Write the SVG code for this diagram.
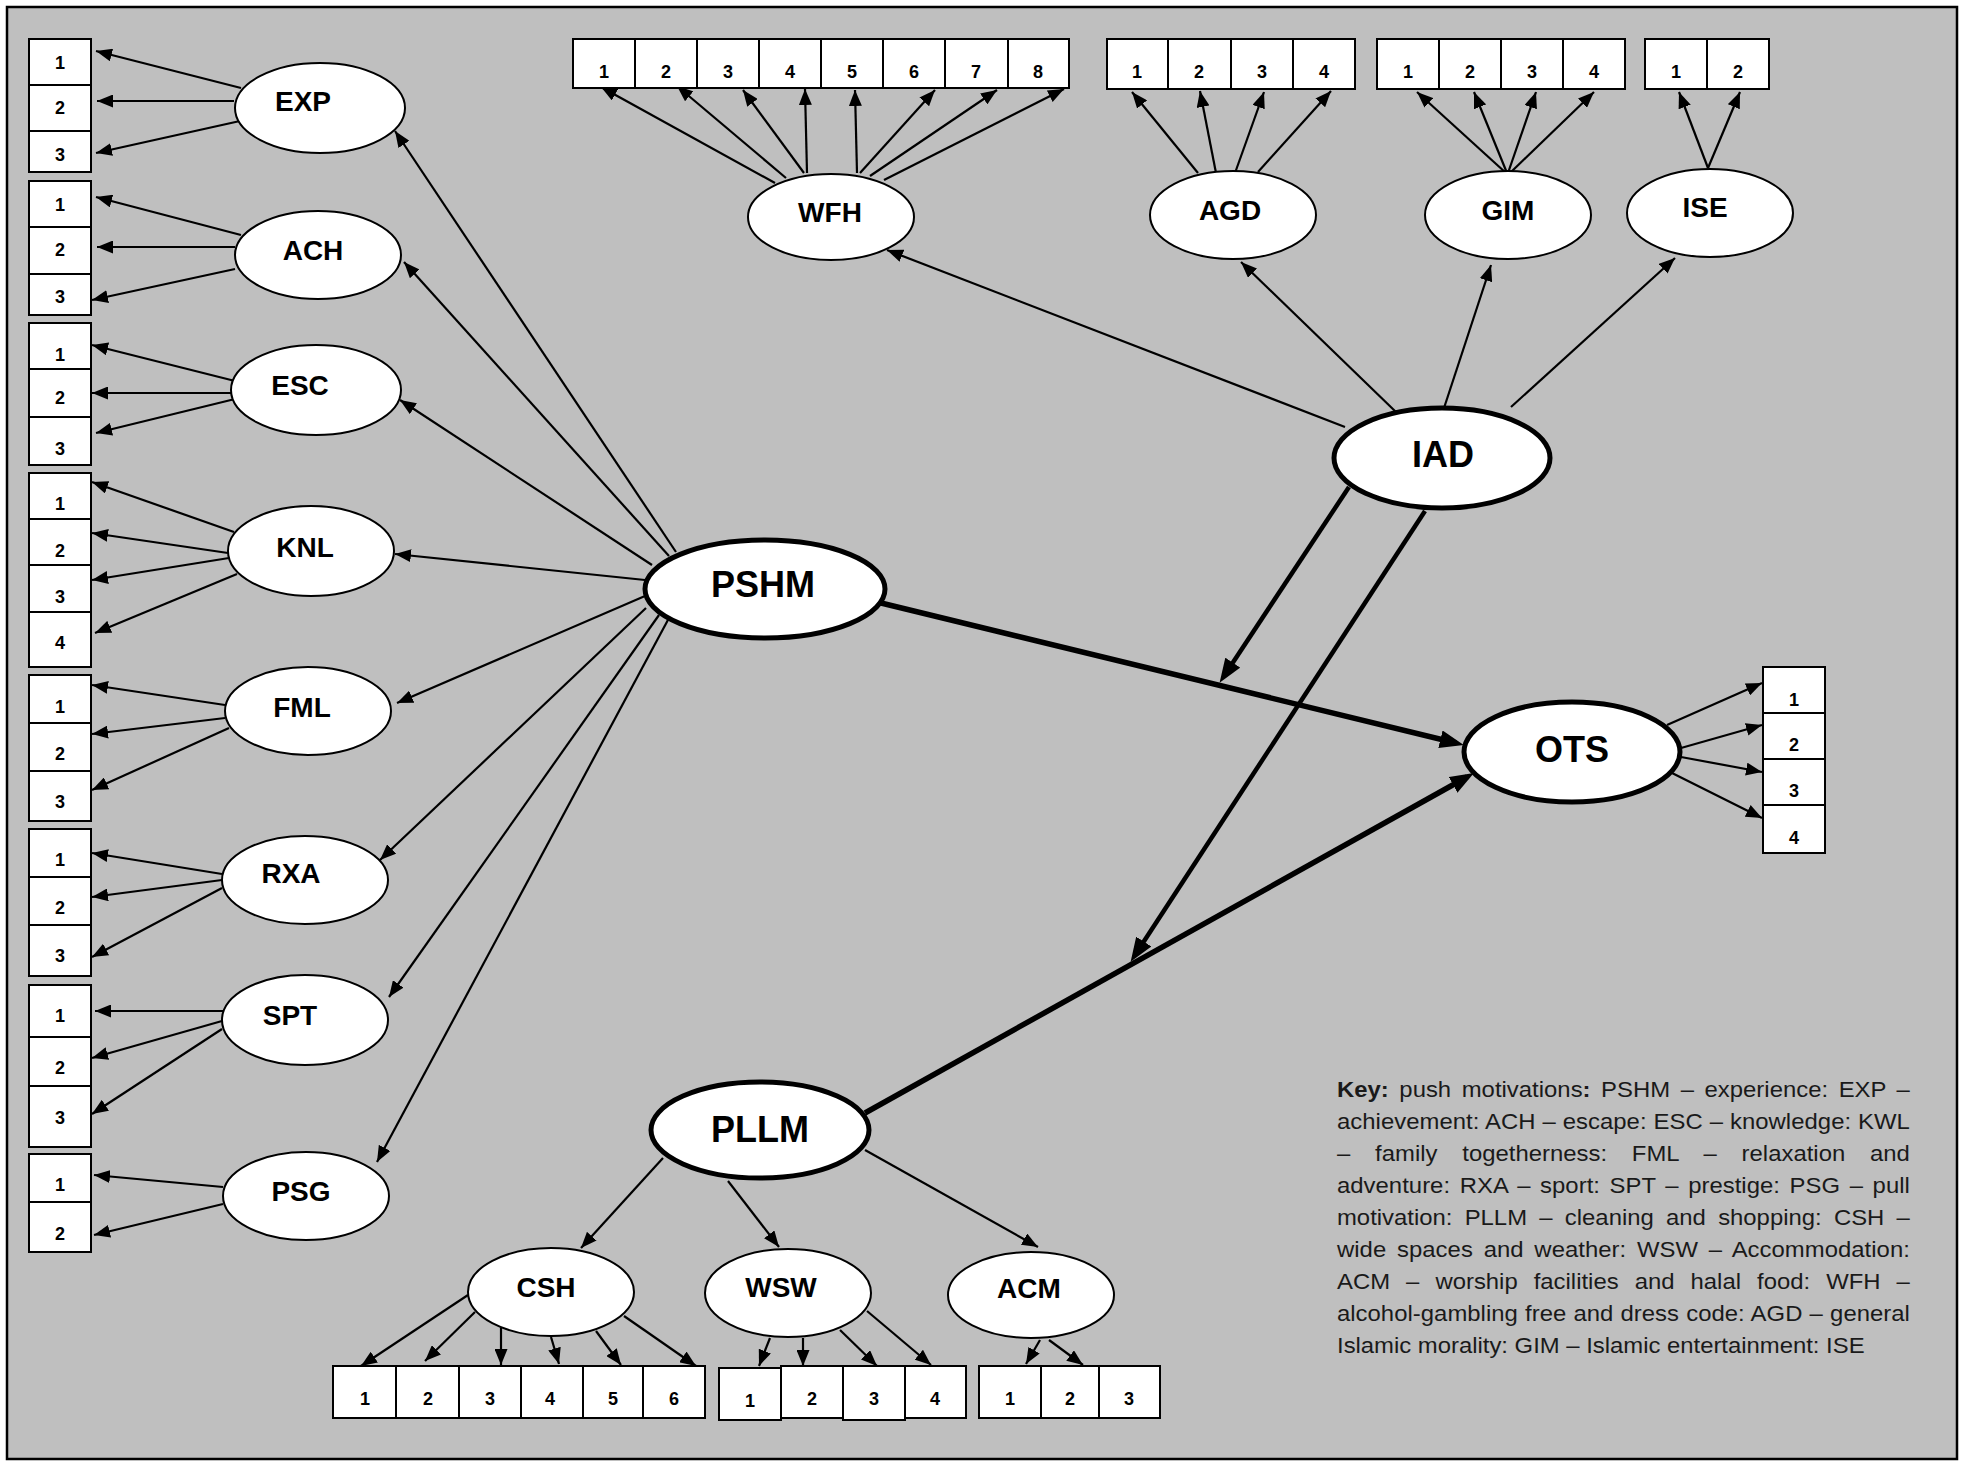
<svg xmlns="http://www.w3.org/2000/svg" width="1967" height="1463" viewBox="0 0 1967 1463">
<style>
.bx{fill:#fff;stroke:#000;stroke-width:2}
.n{font-family:"Liberation Sans",Arial,sans-serif;font-size:18px;font-weight:bold;text-anchor:middle;fill:#000}
.lv{fill:#fff;stroke:#000;stroke-width:2}
.lvb{fill:#fff;stroke:#000;stroke-width:5}
.lb{font-family:"Liberation Sans",Arial,sans-serif;font-size:28px;font-weight:bold;text-anchor:middle;fill:#000}
.lbb{font-family:"Liberation Sans",Arial,sans-serif;font-size:36px;font-weight:bold;text-anchor:middle;fill:#000}
.c{stroke:#000;stroke-width:2.2;fill:none;marker-end:url(#a)}
.t{stroke:#000;stroke-width:5.5;fill:none;marker-end:url(#A)}
.tm{stroke:#000;stroke-width:4.5;fill:none;marker-end:url(#A)}
.key{font-family:"Liberation Sans",Arial,sans-serif;font-size:22px;fill:#1a1a1a}
</style>
<defs>
<marker id="a" markerUnits="userSpaceOnUse" markerWidth="16" markerHeight="13" refX="16" refY="6.5" orient="auto"><path d="M0,0 L16,6.5 L0,13 z" fill="#000"/></marker>
<marker id="A" markerUnits="userSpaceOnUse" markerWidth="24" markerHeight="18" refX="16" refY="9" orient="auto"><path d="M0,0 L24,9 L0,18 z" fill="#000"/></marker>
</defs>
<rect x="0" y="0" width="1967" height="1463" fill="#fff"/>
<rect id="frame" x="7" y="7" width="1950" height="1452" fill="#bfbfbf" stroke="#000" stroke-width="2.5"/>

<g id="connectors">
<!-- EXP indicators -->
<line class="c" x1="241" y1="88" x2="96" y2="51"/>
<line class="c" x1="234" y1="101" x2="97" y2="101"/>
<line class="c" x1="240" y1="121" x2="96" y2="153"/>
<!-- ACH -->
<line class="c" x1="241" y1="235" x2="96" y2="197"/>
<line class="c" x1="235" y1="247" x2="97" y2="247"/>
<line class="c" x1="235" y1="269" x2="92" y2="300"/>
<!-- ESC -->
<line class="c" x1="235" y1="381" x2="92" y2="345"/>
<line class="c" x1="231" y1="393" x2="92" y2="393"/>
<line class="c" x1="235" y1="399" x2="96" y2="433"/>
<!-- KNL -->
<line class="c" x1="234" y1="532" x2="92" y2="482"/>
<line class="c" x1="228" y1="553" x2="92" y2="533"/>
<line class="c" x1="229" y1="558" x2="92" y2="580"/>
<line class="c" x1="237" y1="574" x2="95" y2="633"/>
<!-- FML -->
<line class="c" x1="225" y1="705" x2="92" y2="685"/>
<line class="c" x1="225" y1="718" x2="92" y2="734"/>
<line class="c" x1="229" y1="728" x2="92" y2="790"/>
<!-- RXA -->
<line class="c" x1="222" y1="874" x2="92" y2="853"/>
<line class="c" x1="222" y1="880" x2="92" y2="897"/>
<line class="c" x1="222" y1="888" x2="92" y2="957"/>
<!-- SPT -->
<line class="c" x1="223" y1="1011" x2="95" y2="1011"/>
<line class="c" x1="222" y1="1021" x2="92" y2="1058"/>
<line class="c" x1="222" y1="1029" x2="92" y2="1114"/>
<!-- PSG -->
<line class="c" x1="223" y1="1187" x2="94" y2="1175"/>
<line class="c" x1="223" y1="1204" x2="94" y2="1235"/>
<!-- PSHM to push factors -->
<line class="c" x1="676" y1="552" x2="395" y2="131"/>
<line class="c" x1="669" y1="556" x2="404" y2="262"/>
<line class="c" x1="652" y1="565" x2="400" y2="400"/>
<line class="c" x1="645" y1="580" x2="395" y2="554"/>
<line class="c" x1="645" y1="596" x2="397" y2="703"/>
<line class="c" x1="646" y1="608" x2="380" y2="860"/>
<line class="c" x1="659" y1="615" x2="389" y2="997"/>
<line class="c" x1="669" y1="618" x2="377" y2="1162"/>
<!-- IAD to its factors -->
<line class="c" x1="1345" y1="427" x2="887" y2="250"/>
<line class="c" x1="1396" y1="412" x2="1241" y2="262"/>
<line class="c" x1="1444" y1="408" x2="1491" y2="265"/>
<line class="c" x1="1511" y1="407" x2="1675" y2="258"/>
<!-- WFH indicators -->
<line class="c" x1="775" y1="183" x2="601" y2="87"/>
<line class="c" x1="786" y1="178" x2="677" y2="86"/>
<line class="c" x1="804" y1="173" x2="743" y2="90"/>
<line class="c" x1="807" y1="173" x2="805" y2="89"/>
<line class="c" x1="857" y1="173" x2="855" y2="90"/>
<line class="c" x1="860" y1="173" x2="935" y2="90"/>
<line class="c" x1="870" y1="176" x2="997" y2="90"/>
<line class="c" x1="884" y1="180" x2="1064" y2="89"/>
<!-- AGD indicators -->
<line class="c" x1="1198" y1="173" x2="1132" y2="92"/>
<line class="c" x1="1216" y1="173" x2="1200" y2="91"/>
<line class="c" x1="1235" y1="173" x2="1264" y2="92"/>
<line class="c" x1="1258" y1="172" x2="1331" y2="91"/>
<!-- GIM indicators -->
<line class="c" x1="1506" y1="173" x2="1417" y2="92"/>
<line class="c" x1="1507" y1="173" x2="1474" y2="92"/>
<line class="c" x1="1508" y1="173" x2="1536" y2="92"/>
<line class="c" x1="1510" y1="173" x2="1594" y2="92"/>
<!-- ISE indicators -->
<line class="c" x1="1708" y1="168" x2="1679" y2="92"/>
<line class="c" x1="1708" y1="168" x2="1740" y2="92"/>
<!-- OTS indicators -->
<line class="c" x1="1667" y1="725" x2="1762" y2="683"/>
<line class="c" x1="1681" y1="748" x2="1762" y2="725"/>
<line class="c" x1="1681" y1="757" x2="1762" y2="772"/>
<line class="c" x1="1672" y1="773" x2="1762" y2="818"/>
<!-- PLLM to pull factors -->
<line class="c" x1="663" y1="1158" x2="581" y2="1248"/>
<line class="c" x1="728" y1="1181" x2="779" y2="1247"/>
<line class="c" x1="865" y1="1150" x2="1038" y2="1247"/>
<!-- CSH indicators -->
<line class="c" x1="468" y1="1295" x2="361" y2="1366"/>
<line class="c" x1="475" y1="1312" x2="425" y2="1361"/>
<line class="c" x1="501" y1="1328" x2="501" y2="1365"/>
<line class="c" x1="551" y1="1337" x2="559" y2="1364"/>
<line class="c" x1="596" y1="1331" x2="621" y2="1365"/>
<line class="c" x1="624" y1="1316" x2="696" y2="1366"/>
<!-- WSW indicators -->
<line class="c" x1="770" y1="1338" x2="759" y2="1366"/>
<line class="c" x1="803" y1="1338" x2="803" y2="1366"/>
<line class="c" x1="840" y1="1330" x2="877" y2="1366"/>
<line class="c" x1="867" y1="1311" x2="931" y2="1365"/>
<!-- ACM indicators -->
<line class="c" x1="1040" y1="1340" x2="1026" y2="1364"/>
<line class="c" x1="1049" y1="1340" x2="1083" y2="1365"/>
<!-- structural paths -->
<line class="t" x1="881" y1="603" x2="1456" y2="743"/>
<line class="t" x1="865" y1="1113" x2="1467" y2="777"/>
<line class="tm" x1="1349" y1="487" x2="1224" y2="676"/>
<line class="tm" x1="1425" y1="511" x2="1135" y2="955"/>
</g>

<!-- latent factor nodes -->
<g id="EXP"><ellipse class="lv" cx="320" cy="108" rx="85" ry="45"/><text class="lb" x="303" y="111">EXP</text></g>
<g id="ACH"><ellipse class="lv" cx="318" cy="255" rx="83" ry="44"/><text class="lb" x="313" y="260">ACH</text></g>
<g id="ESC"><ellipse class="lv" cx="316" cy="390" rx="85" ry="45"/><text class="lb" x="300" y="395">ESC</text></g>
<g id="KNL"><ellipse class="lv" cx="311" cy="551" rx="83" ry="45"/><text class="lb" x="305" y="557">KNL</text></g>
<g id="FML"><ellipse class="lv" cx="308" cy="711" rx="83" ry="44"/><text class="lb" x="302" y="717">FML</text></g>
<g id="RXA"><ellipse class="lv" cx="305" cy="880" rx="83" ry="44"/><text class="lb" x="291" y="883">RXA</text></g>
<g id="SPT"><ellipse class="lv" cx="305" cy="1020" rx="83" ry="45"/><text class="lb" x="290" y="1025">SPT</text></g>
<g id="PSG"><ellipse class="lv" cx="306" cy="1196" rx="83" ry="44"/><text class="lb" x="301" y="1201">PSG</text></g>
<g id="WFH"><ellipse class="lv" cx="831" cy="217" rx="83" ry="43"/><text class="lb" x="830" y="222">WFH</text></g>
<g id="AGD"><ellipse class="lv" cx="1233" cy="215" rx="83" ry="44"/><text class="lb" x="1230" y="220">AGD</text></g>
<g id="GIM"><ellipse class="lv" cx="1508" cy="215" rx="83" ry="44"/><text class="lb" x="1508" y="220">GIM</text></g>
<g id="ISE"><ellipse class="lv" cx="1710" cy="213" rx="83" ry="44"/><text class="lb" x="1705" y="217">ISE</text></g>
<g id="CSH"><ellipse class="lv" cx="551" cy="1292" rx="83" ry="44"/><text class="lb" x="546" y="1297">CSH</text></g>
<g id="WSW"><ellipse class="lv" cx="788" cy="1293" rx="83" ry="44"/><text class="lb" x="781" y="1297">WSW</text></g>
<g id="ACM"><ellipse class="lv" cx="1031" cy="1295" rx="83" ry="43"/><text class="lb" x="1029" y="1298">ACM</text></g>
<g id="PSHM"><ellipse class="lvb" cx="765" cy="589" rx="120" ry="49"/><text class="lbb" x="763" y="597">PSHM</text></g>
<g id="IAD"><ellipse class="lvb" cx="1442" cy="458" rx="108" ry="50"/><text class="lbb" x="1443" y="467">IAD</text></g>
<g id="OTS"><ellipse class="lvb" cx="1572" cy="752" rx="108" ry="50"/><text class="lbb" x="1572" y="762">OTS</text></g>
<g id="PLLM"><ellipse class="lvb" cx="760" cy="1130" rx="109" ry="48"/><text class="lbb" x="760" y="1142">PLLM</text></g>

<!-- left indicator boxes -->
<g id="EXP_1"><rect class="bx" x="29" y="39" width="62" height="46"/><text class="n" x="60" y="69">1</text></g>
<g id="EXP_2"><rect class="bx" x="29" y="85" width="62" height="46"/><text class="n" x="60" y="114">2</text></g>
<g id="EXP_3"><rect class="bx" x="29" y="131" width="62" height="41"/><text class="n" x="60" y="161">3</text></g>
<g id="ACH_1"><rect class="bx" x="29" y="181" width="62" height="46"/><text class="n" x="60" y="211">1</text></g>
<g id="ACH_2"><rect class="bx" x="29" y="227" width="62" height="47"/><text class="n" x="60" y="256">2</text></g>
<g id="ACH_3"><rect class="bx" x="29" y="274" width="62" height="41"/><text class="n" x="60" y="303">3</text></g>
<g id="ESC_1"><rect class="bx" x="29" y="323" width="62" height="46"/><text class="n" x="60" y="361">1</text></g>
<g id="ESC_2"><rect class="bx" x="29" y="369" width="62" height="48"/><text class="n" x="60" y="404">2</text></g>
<g id="ESC_3"><rect class="bx" x="29" y="417" width="62" height="48"/><text class="n" x="60" y="455">3</text></g>
<g id="KNL_1"><rect class="bx" x="29" y="473" width="62" height="46"/><text class="n" x="60" y="510">1</text></g>
<g id="KNL_2"><rect class="bx" x="29" y="519" width="62" height="46"/><text class="n" x="60" y="557">2</text></g>
<g id="KNL_3"><rect class="bx" x="29" y="565" width="62" height="47"/><text class="n" x="60" y="603">3</text></g>
<g id="KNL_4"><rect class="bx" x="29" y="612" width="62" height="55"/><text class="n" x="60" y="649">4</text></g>
<g id="FML_1"><rect class="bx" x="29" y="675" width="62" height="48"/><text class="n" x="60" y="713">1</text></g>
<g id="FML_2"><rect class="bx" x="29" y="723" width="62" height="48"/><text class="n" x="60" y="760">2</text></g>
<g id="FML_3"><rect class="bx" x="29" y="771" width="62" height="50"/><text class="n" x="60" y="808">3</text></g>
<g id="RXA_1"><rect class="bx" x="29" y="829" width="62" height="48"/><text class="n" x="60" y="866">1</text></g>
<g id="RXA_2"><rect class="bx" x="29" y="877" width="62" height="48"/><text class="n" x="60" y="914">2</text></g>
<g id="RXA_3"><rect class="bx" x="29" y="925" width="62" height="51"/><text class="n" x="60" y="962">3</text></g>
<g id="SPT_1"><rect class="bx" x="29" y="985" width="62" height="52"/><text class="n" x="60" y="1022">1</text></g>
<g id="SPT_2"><rect class="bx" x="29" y="1037" width="62" height="49"/><text class="n" x="60" y="1074">2</text></g>
<g id="SPT_3"><rect class="bx" x="29" y="1086" width="62" height="61"/><text class="n" x="60" y="1124">3</text></g>
<g id="PSG_1"><rect class="bx" x="29" y="1154" width="62" height="48"/><text class="n" x="60" y="1191">1</text></g>
<g id="PSG_2"><rect class="bx" x="29" y="1202" width="62" height="50"/><text class="n" x="60" y="1240">2</text></g>

<!-- top indicator boxes -->
<g id="WFH_1"><rect class="bx" x="573" y="39" width="62" height="49"/><text class="n" x="604" y="78">1</text></g>
<g id="WFH_2"><rect class="bx" x="635" y="39" width="62" height="49"/><text class="n" x="666" y="78">2</text></g>
<g id="WFH_3"><rect class="bx" x="697" y="39" width="62" height="49"/><text class="n" x="728" y="78">3</text></g>
<g id="WFH_4"><rect class="bx" x="759" y="39" width="62" height="49"/><text class="n" x="790" y="78">4</text></g>
<g id="WFH_5"><rect class="bx" x="821" y="39" width="62" height="49"/><text class="n" x="852" y="78">5</text></g>
<g id="WFH_6"><rect class="bx" x="883" y="39" width="62" height="49"/><text class="n" x="914" y="78">6</text></g>
<g id="WFH_7"><rect class="bx" x="945" y="39" width="63" height="49"/><text class="n" x="976" y="78">7</text></g>
<g id="WFH_8"><rect class="bx" x="1008" y="39" width="61" height="49"/><text class="n" x="1038" y="78">8</text></g>
<g id="AGD_1"><rect class="bx" x="1107" y="39" width="61" height="50"/><text class="n" x="1137" y="78">1</text></g>
<g id="AGD_2"><rect class="bx" x="1168" y="39" width="63" height="50"/><text class="n" x="1199" y="78">2</text></g>
<g id="AGD_3"><rect class="bx" x="1231" y="39" width="62" height="50"/><text class="n" x="1262" y="78">3</text></g>
<g id="AGD_4"><rect class="bx" x="1293" y="39" width="62" height="50"/><text class="n" x="1324" y="78">4</text></g>
<g id="GIM_1"><rect class="bx" x="1377" y="39" width="62" height="50"/><text class="n" x="1408" y="78">1</text></g>
<g id="GIM_2"><rect class="bx" x="1439" y="39" width="62" height="50"/><text class="n" x="1470" y="78">2</text></g>
<g id="GIM_3"><rect class="bx" x="1501" y="39" width="62" height="50"/><text class="n" x="1532" y="78">3</text></g>
<g id="GIM_4"><rect class="bx" x="1563" y="39" width="62" height="50"/><text class="n" x="1594" y="78">4</text></g>
<g id="ISE_1"><rect class="bx" x="1645" y="39" width="62" height="50"/><text class="n" x="1676" y="78">1</text></g>
<g id="ISE_2"><rect class="bx" x="1707" y="39" width="62" height="50"/><text class="n" x="1738" y="78">2</text></g>

<!-- OTS indicator boxes -->
<g id="OTS_1"><rect class="bx" x="1763" y="667" width="62" height="46"/><text class="n" x="1794" y="706">1</text></g>
<g id="OTS_2"><rect class="bx" x="1763" y="713" width="62" height="46"/><text class="n" x="1794" y="751">2</text></g>
<g id="OTS_3"><rect class="bx" x="1763" y="759" width="62" height="46"/><text class="n" x="1794" y="797">3</text></g>
<g id="OTS_4"><rect class="bx" x="1763" y="805" width="62" height="48"/><text class="n" x="1794" y="844">4</text></g>

<!-- bottom indicator boxes -->
<g id="CSH_1"><rect class="bx" x="333" y="1366" width="63" height="52"/><text class="n" x="365" y="1405">1</text></g>
<g id="CSH_2"><rect class="bx" x="396" y="1366" width="63" height="52"/><text class="n" x="428" y="1405">2</text></g>
<g id="CSH_3"><rect class="bx" x="459" y="1366" width="62" height="52"/><text class="n" x="490" y="1405">3</text></g>
<g id="CSH_4"><rect class="bx" x="521" y="1366" width="62" height="52"/><text class="n" x="550" y="1405">4</text></g>
<g id="CSH_5"><rect class="bx" x="583" y="1366" width="60" height="52"/><text class="n" x="613" y="1405">5</text></g>
<g id="CSH_6"><rect class="bx" x="643" y="1366" width="62" height="52"/><text class="n" x="674" y="1405">6</text></g>
<g id="WSW_1"><rect class="bx" x="719" y="1368" width="62" height="52"/><text class="n" x="750" y="1407">1</text></g>
<g id="WSW_2"><rect class="bx" x="781" y="1366" width="62" height="52"/><text class="n" x="812" y="1405">2</text></g>
<g id="WSW_3"><rect class="bx" x="843" y="1366" width="62" height="54"/><text class="n" x="874" y="1405">3</text></g>
<g id="WSW_4"><rect class="bx" x="905" y="1366" width="61" height="52"/><text class="n" x="935" y="1405">4</text></g>
<g id="ACM_1"><rect class="bx" x="979" y="1366" width="62" height="52"/><text class="n" x="1010" y="1405">1</text></g>
<g id="ACM_2"><rect class="bx" x="1041" y="1366" width="58" height="52"/><text class="n" x="1070" y="1405">2</text></g>
<g id="ACM_3"><rect class="bx" x="1099" y="1366" width="61" height="52"/><text class="n" x="1129" y="1405">3</text></g>

<!-- key -->
<g id="key" transform="translate(1337 0) scale(1.085 1)">
<text class="key" x="0" y="1097" word-spacing="3.6" textLength="528" lengthAdjust="spacing"><tspan font-weight="bold">Key:</tspan> push motivations<tspan font-weight="bold">:</tspan> PSHM – experience: EXP –</text>
<text class="key" x="0" y="1129" word-spacing="0.3" textLength="528" lengthAdjust="spacing">achievement: ACH – escape: ESC – knowledge: KWL</text>
<text class="key" x="0" y="1161" word-spacing="16.7" textLength="528" lengthAdjust="spacing">– family togetherness: FML – relaxation and</text>
<text class="key" x="0" y="1193" word-spacing="2.7" textLength="528" lengthAdjust="spacing">adventure: RXA – sport: SPT – prestige: PSG – pull</text>
<text class="key" x="0" y="1225" word-spacing="5.2" textLength="528" lengthAdjust="spacing">motivation: PLLM – cleaning and shopping: CSH –</text>
<text class="key" x="0" y="1257" word-spacing="3.8" textLength="528" lengthAdjust="spacing">wide spaces and weather: WSW – Accommodation:</text>
<text class="key" x="0" y="1289" word-spacing="8.7" textLength="528" lengthAdjust="spacing">ACM – worship facilities and halal food: WFH –</text>
<text class="key" x="0" y="1321" word-spacing="0.5" textLength="528" lengthAdjust="spacing">alcohol-gambling free and dress code: AGD – general</text>
<text class="key" x="0" y="1353">Islamic morality: GIM – Islamic entertainment: ISE</text>
</g>
</svg>
